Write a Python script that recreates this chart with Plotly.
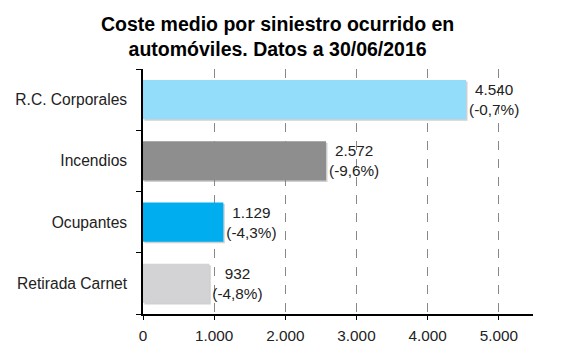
import plotly.graph_objects as go

categories = ["Retirada Carnet", "Ocupantes", "Incendios", "R.C. Corporales"]
values = [932, 1129, 2572, 4540]
value_labels = ["932", "1.129", "2.572", "4.540"]
pct_labels = ["(-4,8%)", "(-4,3%)", "(-9,6%)", "(-0,7%)"]
colors = ["#D3D2D4", "#00AEEF", "#8F8E8F", "#93DDFB"]
tick_vals = [0, 1000, 2000, 3000, 4000, 5000]
tick_text = ["0", "1.000", "2.000", "3.000", "4.000", "5.000"]
title_text = "<b>Coste medio por siniestro ocurrido en<br>automóviles. Datos a 30/06/2016</b>"

texts = [f"{v}<br>{p}" for v, p in zip(value_labels, pct_labels)]
FONT = "Liberation Sans, Arial"

fig = go.Figure()
# subtle shadow behind bars
fig.add_trace(go.Bar(
    y=categories, x=values, orientation="h",
    base=[20] * len(values),
    marker=dict(color="rgba(120,120,120,0.35)", line=dict(width=0)),
    width=0.64, offset=-0.345, hoverinfo="skip", showlegend=False,
))
fig.add_trace(go.Bar(
    y=categories, x=values, orientation="h",
    marker=dict(color=colors, line=dict(width=0)),
    width=0.64,
    text=texts, textposition="outside", cliponaxis=False,
    textfont=dict(family=FONT, size=15.3, color="#222222"),
    showlegend=False,
))

fig.add_annotation(
    text=title_text, xref="paper", yref="paper",
    x=(277 - 143) / 390, y=(322 - 9) / 253, xanchor="center", yanchor="top",
    showarrow=False, align="center",
    font=dict(family=FONT, size=19.5, color="#000000"),
)

fig.update_layout(
    width=567, height=356,
    margin=dict(l=143, r=34, t=69, b=34),
    paper_bgcolor="white", plot_bgcolor="white",
    barmode="overlay",
    font=dict(family=FONT, size=15, color="#222222"),
    xaxis=dict(
        range=[0, 5480], tickvals=tick_vals, ticktext=tick_text,
        showgrid=True, gridcolor="#888888", griddash="dash", gridwidth=1,
        zeroline=False, showline=True, linecolor="black", linewidth=1.5,
        ticks="outside", ticklen=4, tickcolor="black",
        tickfont=dict(size=15.3, color="#222222"), ticklabelstandoff=3,
    ),
    yaxis=dict(
        categoryorder="array", categoryarray=categories,
        showline=True, linecolor="black", linewidth=1.5,
        ticks="outside", tickson="boundaries", ticklen=5, tickcolor="black",
        showgrid=False, tickfont=dict(size=15.6, color="#222222"),
        ticklabelstandoff=11,
    ),
)

fig.write_html(
    "out.html",
    config={"displayModeBar": False},
    post_script="document.body.style.margin='0';document.body.style.padding='0';",
)
